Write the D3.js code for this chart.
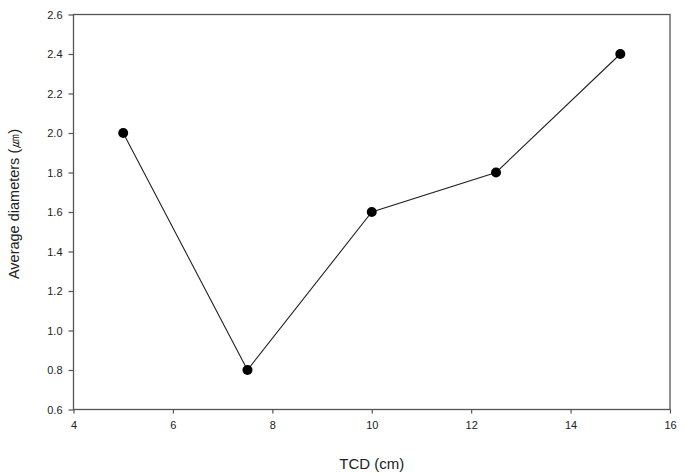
<!DOCTYPE html>
<html>
<head>
<meta charset="utf-8">
<script src="https://cdn.jsdelivr.net/npm/d3@7"></script>
<style>
  body { margin: 0; background: #fff; }
  text { font-family: "Liberation Sans", Arial, sans-serif; fill: #222; }
</style>
</head>
<body>
<svg id="chart" width="685" height="474"></svg>
<script>
// data
const tcd = [5, 7.5, 10, 12.5, 15];
const diameters = [2.0, 0.8, 1.6, 1.8, 2.4];
const xTicks = [4, 6, 8, 10, 12, 14, 16];
const yTicks = [0.6, 0.8, 1.0, 1.2, 1.4, 1.6, 1.8, 2.0, 2.2, 2.4, 2.6];

const svg = d3.select("#chart");
const plotLeft = 73.5, plotRight = 670, plotTop = 14.5, plotBottom = 409.5;

const x = d3.scaleLinear().domain([4, 16]).range([plotLeft, plotRight]);
const y = d3.scaleLinear().domain([0.6, 2.6]).range([plotBottom, plotTop]);

// frame
svg.append("rect")
  .attr("x", plotLeft).attr("y", plotTop)
  .attr("width", plotRight - plotLeft).attr("height", plotBottom - plotTop)
  .attr("fill", "none").attr("stroke", "#555").attr("stroke-width", 1.3);

const xAxis = svg.append("g")
  .attr("transform", `translate(0,${plotBottom})`)
  .call(d3.axisBottom(x).tickValues(xTicks).tickSize(4).tickPadding(8).tickFormat(d3.format("d")));
const yAxis = svg.append("g")
  .attr("transform", `translate(${plotLeft},0)`)
  .call(d3.axisLeft(y).tickValues(yTicks).tickSize(5).tickPadding(6).tickFormat(d3.format(".1f")));

[xAxis, yAxis].forEach((g) => {
  g.select(".domain").remove();
  g.selectAll(".tick line").attr("stroke", "#555").attr("stroke-width", 1.2);
  g.selectAll(".tick text").style("font-size", "11px").attr("fill", "#333");
});

// line and markers
const line = d3.line().x((d, i) => x(tcd[i])).y((d) => y(d));
svg.append("path")
  .datum(diameters)
  .attr("d", line)
  .attr("fill", "none").attr("stroke", "#222").attr("stroke-width", 1.1);

svg.selectAll("circle")
  .data(diameters)
  .join("circle")
  .attr("cx", (d, i) => x(tcd[i]))
  .attr("cy", (d) => y(d))
  .attr("r", 5)
  .attr("fill", "#000");

// axis titles
svg.append("text")
  .attr("x", (plotLeft + plotRight) / 2).attr("y", 469)
  .attr("text-anchor", "middle")
  .style("font-size", "15px")
  .text("TCD (cm)");

svg.append("text")
  .attr("transform", `translate(19,204) rotate(-90)`)
  .attr("text-anchor", "middle")
  .style("font-size", "14.5px")
  .text("Average diameters (㎛)");
</script>
</body>
</html>
